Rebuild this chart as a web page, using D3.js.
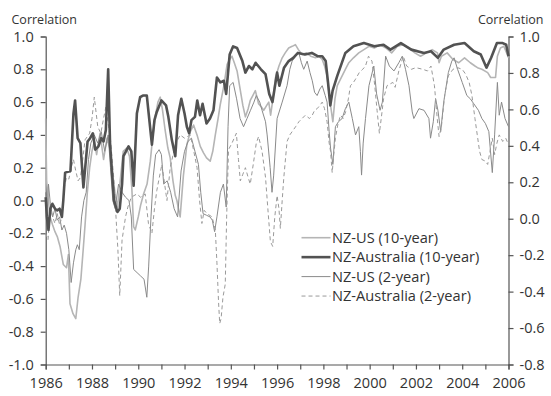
<!DOCTYPE html>
<html>
<head>
<meta charset="utf-8">
<script src="https://cdn.jsdelivr.net/npm/d3@7"></script>
<style>
  body { margin: 0; background: #fff; }
  text { font-family: "Open Sans", "Noto Sans", sans-serif; fill: #333; }
</style>
</head>
<body>
<div id="chart"></div>
<script>
// series: [year, correlation]
const nzUs10 = [[1986.0,0.5],[1986.04,0.12],[1986.1,0.02],[1986.19,-0.1],[1986.3,-0.15],[1986.4,-0.19],[1986.5,-0.22],[1986.62,-0.28],[1986.76,-0.39],[1986.9,-0.41],[1986.98,-0.33],[1987.05,-0.63],[1987.18,-0.69],[1987.3,-0.72],[1987.4,-0.59],[1987.52,-0.48],[1987.62,-0.3],[1987.7,-0.15],[1987.8,0.05],[1987.9,0.2],[1988.0,0.3],[1988.1,0.36],[1988.2,0.28],[1988.35,0.41],[1988.5,0.25],[1988.65,0.38],[1988.8,0.3],[1988.9,0.15],[1989.0,0.04],[1989.1,-0.04],[1989.22,0.12],[1989.35,0.3],[1989.5,0.32],[1989.62,0.27],[1989.72,0.08],[1989.8,-0.16],[1989.87,-0.18],[1990.0,-0.1],[1990.1,-0.03],[1990.23,0.04],[1990.38,0.1],[1990.52,0.24],[1990.62,0.38],[1990.73,0.51],[1990.85,0.6],[1990.95,0.63],[1991.05,0.55],[1991.16,0.43],[1991.28,0.32],[1991.38,0.26],[1991.5,0.12],[1991.6,0.03],[1991.67,0.0],[1991.75,-0.06],[1991.81,-0.1],[1991.95,0.15],[1992.1,0.34],[1992.25,0.42],[1992.39,0.46],[1992.54,0.4],[1992.68,0.33],[1992.82,0.29],[1992.95,0.26],[1993.11,0.24],[1993.22,0.3],[1993.33,0.4],[1993.45,0.5],[1993.55,0.59],[1993.7,0.7],[1993.84,0.83],[1993.95,0.86],[1994.05,0.88],[1994.15,0.84],[1994.27,0.79],[1994.4,0.68],[1994.52,0.58],[1994.63,0.51],[1994.75,0.56],[1994.84,0.61],[1994.95,0.64],[1995.06,0.67],[1995.2,0.59],[1995.32,0.57],[1995.42,0.55],[1995.55,0.58],[1995.64,0.6],[1995.72,0.52],[1995.8,0.6],[1995.93,0.75],[1996.08,0.82],[1996.22,0.87],[1996.35,0.9],[1996.5,0.93],[1996.65,0.94],[1996.79,0.95],[1996.92,0.92],[1997.08,0.89],[1997.25,0.9],[1997.45,0.88],[1997.66,0.87],[1997.8,0.88],[1997.95,0.86],[1998.05,0.82],[1998.16,0.76],[1998.27,0.62],[1998.35,0.54],[1998.41,0.48],[1998.5,0.62],[1998.6,0.7],[1998.81,0.76],[1998.95,0.8],[1999.1,0.84],[1999.3,0.87],[1999.53,0.9],[1999.75,0.92],[1999.97,0.94],[2000.2,0.93],[2000.45,0.95],[2000.7,0.93],[2000.95,0.9],[2001.2,0.94],[2001.45,0.95],[2001.7,0.93],[2001.95,0.9],[2002.2,0.88],[2002.45,0.9],[2002.7,0.92],[2002.93,0.9],[2003.0,0.84],[2003.1,0.88],[2003.35,0.9],[2003.6,0.86],[2003.85,0.84],[2004.1,0.87],[2004.35,0.84],[2004.55,0.82],[2004.66,0.81],[2004.85,0.8],[2005.1,0.78],[2005.23,0.75],[2005.44,0.75],[2005.52,0.88],[2005.65,0.93],[2005.8,0.94],[2005.92,0.9],[2006.0,0.87]];

const nzAus10 = [[1986.0,0.02],[1986.05,-0.1],[1986.12,-0.18],[1986.2,-0.05],[1986.29,-0.02],[1986.4,-0.05],[1986.5,-0.06],[1986.6,-0.05],[1986.7,-0.1],[1986.76,0.0],[1986.84,0.17],[1987.07,0.18],[1987.2,0.53],[1987.27,0.61],[1987.38,0.38],[1987.5,0.35],[1987.63,0.08],[1987.81,0.36],[1987.92,0.38],[1988.04,0.41],[1988.14,0.31],[1988.28,0.33],[1988.4,0.38],[1988.5,0.36],[1988.6,0.43],[1988.7,0.8],[1988.78,0.35],[1988.85,0.2],[1988.95,0.0],[1989.1,-0.07],[1989.2,-0.05],[1989.3,0.1],[1989.36,0.27],[1989.58,0.33],[1989.7,0.3],[1989.8,0.09],[1989.94,0.53],[1990.08,0.63],[1990.2,0.64],[1990.37,0.64],[1990.45,0.53],[1990.59,0.34],[1990.7,0.49],[1990.8,0.54],[1991.0,0.61],[1991.2,0.58],[1991.3,0.51],[1991.45,0.37],[1991.6,0.27],[1991.72,0.52],[1991.86,0.62],[1992.0,0.53],[1992.1,0.45],[1992.2,0.41],[1992.3,0.49],[1992.45,0.51],[1992.55,0.61],[1992.67,0.52],[1992.78,0.59],[1992.95,0.47],[1993.1,0.5],[1993.25,0.55],[1993.4,0.75],[1993.55,0.72],[1993.7,0.73],[1993.8,0.65],[1993.95,0.89],[1994.1,0.94],[1994.27,0.93],[1994.5,0.85],[1994.63,0.78],[1994.78,0.82],[1994.93,0.8],[1995.07,0.84],[1995.3,0.8],[1995.5,0.77],[1995.66,0.65],[1995.8,0.6],[1996.0,0.78],[1996.1,0.7],[1996.3,0.81],[1996.5,0.85],[1996.7,0.87],[1996.9,0.9],[1997.2,0.89],[1997.5,0.9],[1997.75,0.88],[1997.95,0.88],[1998.1,0.85],[1998.2,0.72],[1998.3,0.58],[1998.4,0.67],[1998.6,0.76],[1998.95,0.9],[1999.3,0.94],[1999.75,0.96],[2000.2,0.94],[2000.6,0.95],[2000.9,0.92],[2001.35,0.96],[2001.8,0.92],[2002.35,0.9],[2002.65,0.91],[2002.95,0.87],[2003.2,0.92],[2003.65,0.95],[2004.1,0.96],[2004.5,0.91],[2004.8,0.89],[2005.05,0.81],[2005.25,0.87],[2005.5,0.96],[2005.75,0.96],[2005.9,0.95],[2006.0,0.88]];

const nzUs2 = [[1986.0,0.05],[1986.05,-0.12],[1986.12,0.1],[1986.2,-0.02],[1986.3,-0.1],[1986.4,-0.05],[1986.5,-0.12],[1986.6,-0.1],[1986.7,-0.18],[1986.8,-0.15],[1986.9,-0.2],[1987.0,-0.3],[1987.1,-0.5],[1987.2,-0.38],[1987.3,-0.3],[1987.37,-0.27],[1987.45,-0.3],[1987.55,-0.1],[1987.65,0.0],[1987.75,0.05],[1987.85,0.25],[1987.95,0.35],[1988.1,0.4],[1988.25,0.35],[1988.4,0.42],[1988.55,0.3],[1988.7,0.4],[1988.8,0.2],[1988.9,0.0],[1989.0,-0.05],[1989.15,0.1],[1989.3,0.05],[1989.45,0.02],[1989.6,0.0],[1989.7,-0.1],[1989.8,-0.42],[1989.95,-0.44],[1990.1,-0.46],[1990.25,-0.48],[1990.37,-0.59],[1990.45,-0.4],[1990.55,-0.1],[1990.65,0.15],[1990.75,0.28],[1990.9,0.31],[1991.0,0.28],[1991.1,0.1],[1991.25,0.12],[1991.4,0.05],[1991.55,-0.05],[1991.7,-0.1],[1991.85,0.18],[1992.0,0.3],[1992.15,0.36],[1992.3,0.38],[1992.45,0.3],[1992.6,0.22],[1992.7,0.05],[1992.8,-0.08],[1992.95,-0.09],[1993.1,-0.1],[1993.2,-0.12],[1993.3,-0.19],[1993.4,-0.1],[1993.55,0.05],[1993.68,0.1],[1993.8,-0.04],[1993.88,0.45],[1993.95,0.7],[1994.1,0.72],[1994.25,0.62],[1994.4,0.5],[1994.55,0.45],[1994.7,0.5],[1994.85,0.55],[1995.0,0.6],[1995.1,0.64],[1995.25,0.6],[1995.35,0.55],[1995.5,0.48],[1995.57,0.4],[1995.7,0.2],[1995.78,0.05],[1995.85,0.15],[1996.0,0.5],[1996.22,0.6],[1996.43,0.7],[1996.55,0.8],[1996.65,0.85],[1996.8,0.88],[1996.94,0.9],[1997.05,0.84],[1997.15,0.8],[1997.3,0.85],[1997.42,0.78],[1997.52,0.73],[1997.62,0.66],[1997.73,0.64],[1997.85,0.68],[1997.95,0.7],[1998.08,0.64],[1998.16,0.6],[1998.25,0.42],[1998.31,0.32],[1998.41,0.22],[1998.47,0.35],[1998.52,0.45],[1998.65,0.48],[1998.81,0.5],[1998.95,0.56],[1999.1,0.6],[1999.25,0.5],[1999.39,0.4],[1999.53,0.45],[1999.6,0.3],[1999.65,0.155],[1999.72,0.35],[1999.82,0.5],[1999.97,0.7],[2000.18,0.82],[2000.3,0.65],[2000.45,0.55],[2000.55,0.6],[2000.69,0.88],[2000.85,0.82],[2001.05,0.79],[2001.26,0.84],[2001.41,0.88],[2001.55,0.8],[2001.7,0.7],[2001.84,0.54],[2001.91,0.5],[2002.13,0.56],[2002.35,0.55],[2002.56,0.5],[2002.63,0.38],[2002.75,0.48],[2002.85,0.62],[2002.95,0.55],[2003.07,0.42],[2003.2,0.6],[2003.4,0.78],[2003.55,0.85],[2003.65,0.87],[2003.8,0.8],[2004.0,0.72],[2004.2,0.64],[2004.35,0.62],[2004.5,0.59],[2004.7,0.55],[2004.85,0.5],[2005.0,0.47],[2005.15,0.42],[2005.3,0.17],[2005.4,0.4],[2005.52,0.72],[2005.6,0.52],[2005.7,0.6],[2005.85,0.5],[2006.0,0.45]];

const nzAus2 = [[1986.0,-0.2],[1986.1,-0.24],[1986.2,-0.05],[1986.3,-0.1],[1986.4,-0.14],[1986.5,-0.08],[1986.6,-0.15],[1986.7,-0.1],[1986.8,0.08],[1986.9,0.14],[1987.0,0.13],[1987.1,0.2],[1987.2,0.25],[1987.3,0.18],[1987.4,0.12],[1987.5,0.14],[1987.6,0.25],[1987.7,0.37],[1987.9,0.41],[1988.0,0.5],[1988.1,0.63],[1988.25,0.45],[1988.38,0.41],[1988.5,0.5],[1988.6,0.57],[1988.8,0.37],[1988.95,0.12],[1989.03,-0.08],[1989.12,-0.3],[1989.2,-0.58],[1989.3,-0.24],[1989.45,-0.1],[1989.55,-0.04],[1989.7,0.02],[1989.94,0.04],[1990.1,0.02],[1990.3,0.04],[1990.44,-0.14],[1990.59,-0.2],[1990.7,-0.05],[1990.8,0.06],[1991.02,0.22],[1991.24,0.0],[1991.38,0.2],[1991.6,0.34],[1991.81,0.4],[1992.0,0.38],[1992.25,0.4],[1992.4,0.3],[1992.54,0.2],[1992.65,0.0],[1992.75,-0.14],[1992.85,-0.06],[1992.97,-0.08],[1993.19,-0.1],[1993.33,-0.18],[1993.4,-0.38],[1993.47,-0.62],[1993.52,-0.75],[1993.58,-0.72],[1993.66,-0.59],[1993.76,-0.51],[1993.82,-0.1],[1993.9,0.31],[1994.05,0.35],[1994.24,0.41],[1994.33,0.25],[1994.41,0.12],[1994.52,0.16],[1994.63,0.2],[1994.75,0.14],[1994.84,0.1],[1994.99,0.24],[1995.1,0.35],[1995.2,0.39],[1995.35,0.3],[1995.5,0.14],[1995.6,-0.05],[1995.71,-0.25],[1995.81,-0.28],[1995.9,-0.1],[1996.0,0.03],[1996.08,-0.05],[1996.14,-0.17],[1996.22,0.0],[1996.29,0.14],[1996.43,0.36],[1996.55,0.4],[1996.65,0.42],[1996.8,0.45],[1996.94,0.48],[1997.08,0.5],[1997.22,0.52],[1997.4,0.5],[1997.52,0.52],[1997.62,0.55],[1997.73,0.56],[1997.85,0.58],[1997.95,0.6],[1998.05,0.56],[1998.16,0.48],[1998.25,0.35],[1998.31,0.3],[1998.38,0.17],[1998.45,0.28],[1998.52,0.38],[1998.62,0.46],[1998.74,0.52],[1998.85,0.5],[1998.96,0.54],[1999.08,0.62],[1999.17,0.7],[1999.3,0.72],[1999.39,0.74],[1999.55,0.78],[1999.7,0.8],[1999.82,0.82],[1999.95,0.88],[2000.1,0.85],[2000.22,0.7],[2000.32,0.55],[2000.42,0.41],[2000.5,0.5],[2000.6,0.62],[2000.75,0.7],[2001.0,0.72],[2001.1,0.69],[2001.26,0.79],[2001.45,0.88],[2001.6,0.82],[2001.8,0.8],[2002.0,0.81],[2002.3,0.8],[2002.5,0.79],[2002.65,0.82],[2002.8,0.7],[2002.92,0.5],[2003.0,0.39],[2003.1,0.45],[2003.25,0.65],[2003.4,0.76],[2003.6,0.8],[2003.8,0.81],[2004.0,0.8],[2004.15,0.77],[2004.3,0.72],[2004.42,0.64],[2004.55,0.5],[2004.65,0.4],[2004.75,0.3],[2004.85,0.25],[2005.0,0.24],[2005.1,0.22],[2005.2,0.3],[2005.3,0.38],[2005.4,0.28],[2005.5,0.35],[2005.6,0.4],[2005.75,0.36],[2005.88,0.38],[2006.0,0.34]];

const yearTicks = d3.range(1986, 2007, 1);
const yearLabels = d3.range(1986, 2007, 2);
const leftTicks = [-1.0, -0.8, -0.6, -0.4, -0.2, 0.0, 0.2, 0.4, 0.6, 0.8, 1.0];
const rightTicks = [-0.8, -0.6, -0.4, -0.2, 0.0, 0.2, 0.4, 0.6, 0.8, 1.0];
const seriesNames = ["NZ-US (10-year)", "NZ-Australia (10-year)", "NZ-US (2-year)", "NZ-Australia (2-year)"];

const width = 551, height = 396;
const margin = { top: 36.5, right: 42.5, bottom: 31.5, left: 45.7 };
const axisColor = "#555";

const svg = d3.select("#chart")
  .append("svg")
  .attr("width", width)
  .attr("height", height);

const x = d3.scaleLinear()
  .domain([1986, 2006])
  .range([margin.left, width - margin.right]);
const y = d3.scaleLinear()
  .domain([-1, 1])
  .range([height - margin.bottom, margin.top]);
const yRight = d3.scaleLinear()
  .domain([-0.8, 1.0])
  .range([height - margin.bottom, margin.top]);

const fmt = v => v.toFixed(1);

// bottom axis
const xAxis = svg.append("g")
  .attr("transform", "translate(0," + (height - margin.bottom) + ")")
  .call(d3.axisBottom(x).tickValues(yearTicks).tickSize(5)
    .tickFormat(d => yearLabels.includes(d) ? String(d) : ""));

// left axis
const yAxis = svg.append("g")
  .attr("transform", "translate(" + margin.left + ",0)")
  .call(d3.axisLeft(y).tickValues(leftTicks).tickSize(5).tickPadding(7).tickFormat(fmt));

// right axis
const yAxisR = svg.append("g")
  .attr("transform", "translate(" + (width - margin.right) + ",0)")
  .call(d3.axisRight(yRight).tickValues(rightTicks).tickSize(5).tickPadding(6).tickFormat(fmt));

[xAxis, yAxis, yAxisR].forEach(g => {
  g.select(".domain").attr("stroke", axisColor).attr("stroke-width", 1.2);
  g.selectAll(".tick line").attr("stroke", axisColor).attr("stroke-width", 1.2);
  g.selectAll(".tick text")
    .attr("fill", "#333")
    .style("font-family", '"Open Sans", "Noto Sans", sans-serif')
    .style("font-size", "14.5px");
});
xAxis.selectAll(".tick text").attr("dy", "1.1em");

svg.append("text")
  .attr("x", 11.5)
  .attr("y", 24)
  .style("font-size", "12.5px")
  .text("Correlation");
svg.append("text")
  .attr("x", 543.5)
  .attr("y", 24)
  .attr("text-anchor", "end")
  .style("font-size", "12.5px")
  .text("Correlation");

const line = d3.line()
  .x(d => x(d[0]))
  .y(d => y(d[1]));

const styles = [
  { data: nzUs10, color: "#b5b5b5", w: 1.6, dash: null },
  { data: nzAus10, color: "#525252", w: 2.6, dash: null },
  { data: nzUs2, color: "#8a8a8a", w: 1, dash: null },
  { data: nzAus2, color: "#9a9a9a", w: 1, dash: "4,3" }
];
const drawOrder = [0, 2, 3, 1];

drawOrder.forEach(i => {
  const s = styles[i];
  svg.append("path")
    .datum(s.data)
    .attr("fill", "none")
    .attr("stroke", s.color)
    .attr("stroke-width", s.w)
    .attr("stroke-dasharray", s.dash)
    .attr("stroke-linejoin", "round")
    .attr("d", line);
});

// legend
const legend = svg.append("g").attr("transform", "translate(301.5,237.7)");
seriesNames.forEach((name, i) => {
  const s = styles[i];
  const row = legend.append("g").attr("transform", "translate(0," + (i * 19.45) + ")");
  row.append("line")
    .attr("x1", 0).attr("x2", 29)
    .attr("stroke", s.color)
    .attr("stroke-width", s.w)
    .attr("stroke-dasharray", s.dash);
  row.append("text")
    .attr("x", 30.5)
    .attr("dy", "0.35em")
    .style("font-size", "14.6px")
    .text(name);
});
</script>
</body>
</html>
